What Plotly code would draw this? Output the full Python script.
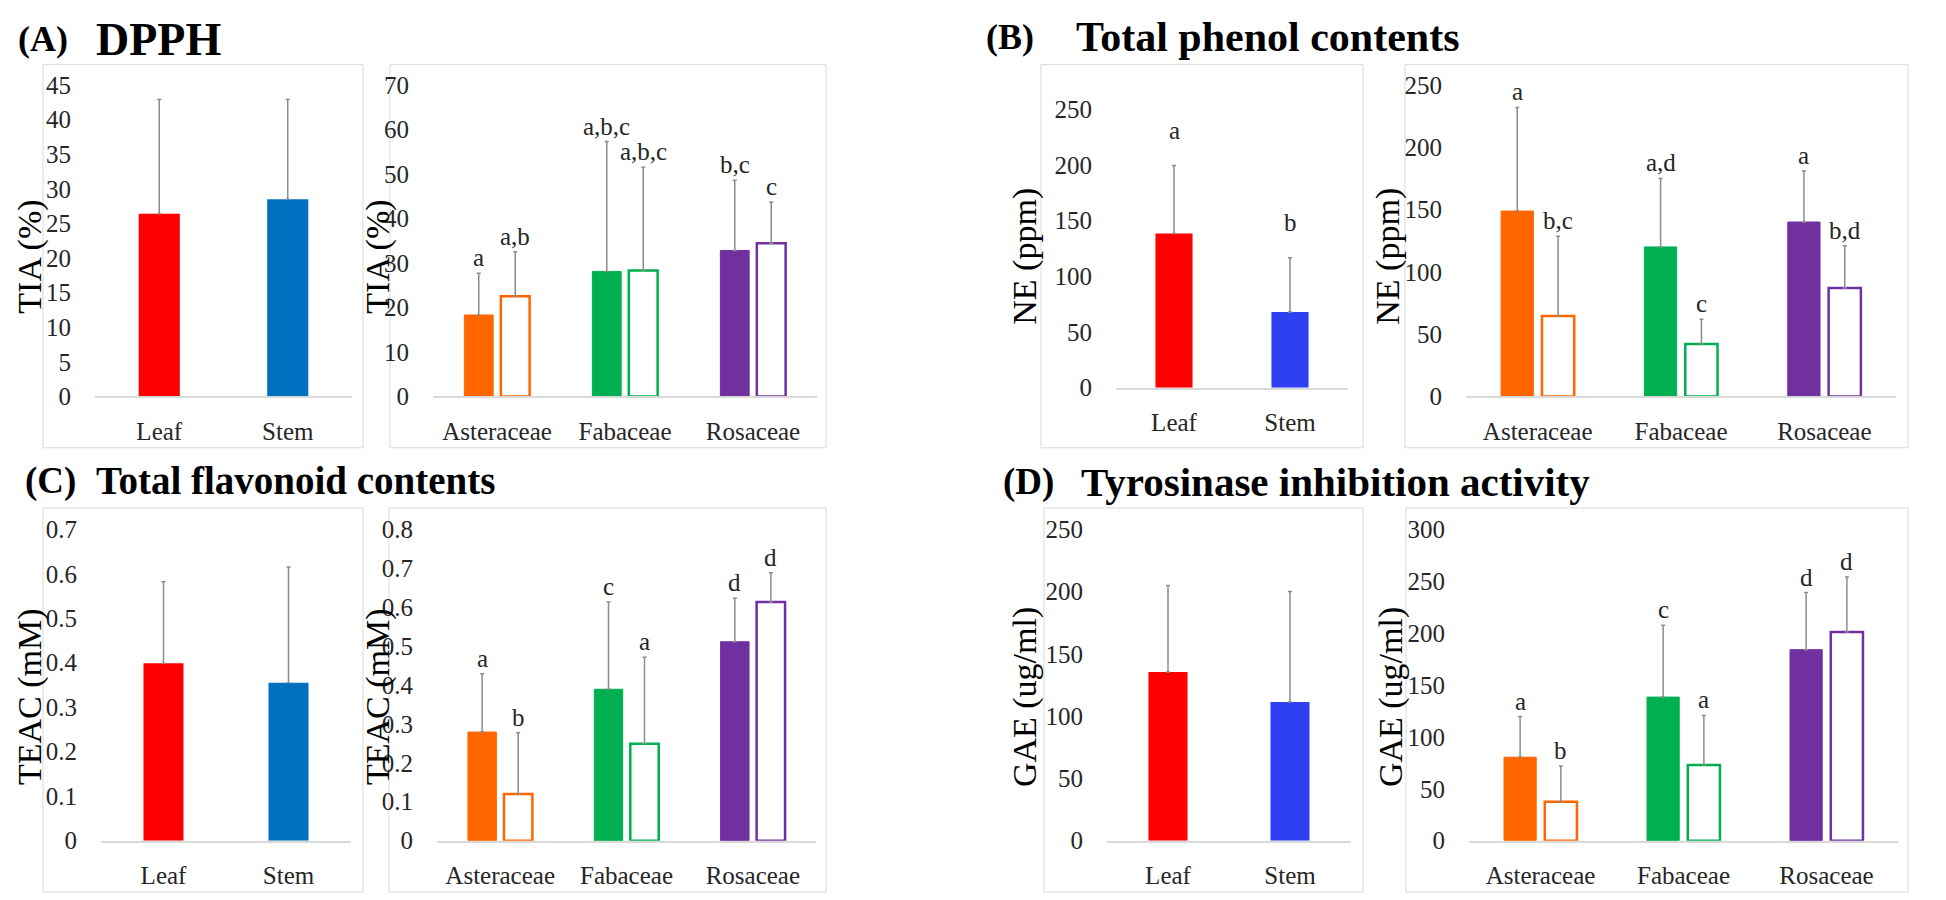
import plotly.graph_objects as go

W, H = 1946, 900
FONT = "Liberation Serif"

def px(x):
    return x / W

def py(y):
    return 1 - y / H

# ---------------- data ----------------
parts = ["Leaf", "Stem"]
families = ["Asteraceae", "Fabaceae", "Rosaceae"]

# (A) DPPH
dpph_parts = [26.4, 28.5]
dpph_parts_sd = [16.5, 14.4]
dpph_leaf = [18.3, 28.1, 32.8]
dpph_leaf_sd = [9.4, 29.2, 15.8]
dpph_stem = [22.5, 28.3, 34.4]
dpph_stem_sd = [10.0, 23.2, 9.3]
dpph_leaf_letters = ["a", "a,b,c", "b,c"]
dpph_stem_letters = ["a,b", "a,b,c", "c"]

# (B) Total phenol contents
phenol_parts = [138.5, 68.0]
phenol_parts_sd = [61.0, 48.7]
phenol_parts_letters = ["a", "b"]
phenol_leaf = [148.8, 120.0, 140.0]
phenol_leaf_sd = [83.2, 55.0, 41.0]
phenol_stem = [64.6, 42.0, 87.0]
phenol_stem_sd = [63.9, 20.0, 34.0]
phenol_leaf_letters = ["a", "a,d", "a"]
phenol_stem_letters = ["b,c", "c", "b,d"]

# (C) Total flavonoid contents
flav_parts = [0.399, 0.355]
flav_parts_sd = [0.183, 0.260]
flav_leaf = [0.279, 0.389, 0.511]
flav_leaf_sd = [0.150, 0.224, 0.112]
flav_stem = [0.120, 0.249, 0.613]
flav_stem_sd = [0.157, 0.222, 0.075]
flav_leaf_letters = ["a", "c", "d"]
flav_stem_letters = ["b", "a", "d"]

# (D) Tyrosinase inhibition activity
tyr_parts = [135.5, 111.4]
tyr_parts_sd = [69.3, 88.6]
tyr_leaf = [80.4, 138.3, 184.0]
tyr_leaf_sd = [39.2, 69.2, 55.0]
tyr_stem = [37.4, 72.9, 201.0]
tyr_stem_sd = [34.6, 47.7, 53.0]
tyr_leaf_letters = ["a", "c", "d"]
tyr_stem_letters = ["b", "a", "d"]

RED = "#FF0000"
BLUE_A = "#0070C0"
BLUE_B = "#2E40F2"
FAM_COLORS = ["#FF6600", "#00B050", "#7030A0"]
ERR = "#8C8C8C"
BOX = "#D9D9D9"
TICK_COLOR = "#262626"

panels = [
    dict(kind="parts", vals=dpph_parts, sd=dpph_parts_sd, letters=None, stem=BLUE_A,
         x0=87, x1=344, y0=387, y1=66, ymax=45, dtick=5, ytitle="TIA (%)", tx=22, ty=243,
         box=(35, 45, 355, 440)),
    dict(kind="fam", leaf=dpph_leaf, leaf_sd=dpph_leaf_sd, stem=dpph_stem, stem_sd=dpph_stem_sd,
         leaf_letters=dpph_leaf_letters, stem_letters=dpph_stem_letters,
         x0=425, x1=809, y0=387, y1=66, ymax=70, dtick=10, ytitle="TIA (%)", tx=370, ty=243,
         box=(382, 45, 818, 440)),
    dict(kind="parts", vals=phenol_parts, sd=phenol_parts_sd, letters=phenol_parts_letters, stem=BLUE_B,
         x0=1108, x1=1340, y0=378, y1=91, ymax=250, dtick=50, ytitle="NE (ppm)", tx=1017, ty=243,
         box=(1033, 45, 1355, 440), lshift=20),
    dict(kind="fam", leaf=phenol_leaf, leaf_sd=phenol_leaf_sd, stem=phenol_stem, stem_sd=phenol_stem_sd,
         leaf_letters=phenol_leaf_letters, stem_letters=phenol_stem_letters,
         x0=1458, x1=1888, y0=387, y1=66, ymax=250, dtick=50, ytitle="NE (ppm)", tx=1380, ty=243,
         box=(1397, 45, 1900, 440)),
    dict(kind="parts", vals=flav_parts, sd=flav_parts_sd, letters=None, stem=BLUE_A,
         x0=93, x1=343, y0=845, y1=524, ymax=0.7, dtick=0.1, ytitle="TEAC (mM)", tx=22, ty=697,
         box=(35, 502, 355, 898)),
    dict(kind="fam", leaf=flav_leaf, leaf_sd=flav_leaf_sd, stem=flav_stem, stem_sd=flav_stem_sd,
         leaf_letters=flav_leaf_letters, stem_letters=flav_stem_letters,
         x0=429, x1=808, y0=845, y1=524, ymax=0.8, dtick=0.1, ytitle="TEAC (mM)", tx=370, ty=697,
         box=(381, 502, 818, 898)),
    dict(kind="parts", vals=tyr_parts, sd=tyr_parts_sd, letters=None, stem=BLUE_B,
         x0=1099, x1=1343, y0=845, y1=524, ymax=250, dtick=50, ytitle="GAE (ug/ml)", tx=1017, ty=697,
         box=(1036, 502, 1355, 898)),
    dict(kind="fam", leaf=tyr_leaf, leaf_sd=tyr_leaf_sd, stem=tyr_stem, stem_sd=tyr_stem_sd,
         leaf_letters=tyr_leaf_letters, stem_letters=tyr_stem_letters,
         x0=1461, x1=1890, y0=845, y1=524, ymax=300, dtick=50, ytitle="GAE (ug/ml)", tx=1383, ty=697,
         box=(1398, 502, 1900, 898)),
]

fig = go.Figure()
annotations = []
shapes = []
layout_axes = {}

BAR_W = 0.225
OFF_FILL = -0.255
OFF_HOLLOW = 0.03

for i, p in enumerate(panels):
    n = i + 1
    xa = "x" if n == 1 else f"x{n}"
    ya = "y" if n == 1 else f"y{n}"
    xkey = "xaxis" if n == 1 else f"xaxis{n}"
    ykey = "yaxis" if n == 1 else f"yaxis{n}"

    def err(sd):
        return dict(type="data", array=sd, arrayminus=[0] * len(sd), symmetric=False,
                    color=ERR, thickness=1.5, width=2)

    if p["kind"] == "parts":
        fig.add_trace(go.Bar(
            x=parts, y=p["vals"], width=0.32, xaxis=xa, yaxis=ya,
            marker=dict(color=[RED, p["stem"]], line=dict(width=0)),
            error_y=err(p["sd"]), showlegend=False))
        if p["letters"]:
            for k, lab in enumerate(p["letters"]):
                annotations.append(dict(
                    x=k, y=p["vals"][k] + p["sd"][k], xref=xa, yref=ya, text=lab,
                    showarrow=False, yanchor="bottom", yshift=p.get("lshift", 2),
                    font=dict(family=FONT, size=25, color="#262626")))
        ncat = 2
        cats = parts
    else:
        fig.add_trace(go.Bar(
            x=families, y=p["leaf"], width=BAR_W, offset=OFF_FILL, xaxis=xa, yaxis=ya,
            marker=dict(color=FAM_COLORS, line=dict(color=FAM_COLORS, width=1)),
            error_y=err(p["leaf_sd"]), showlegend=False))
        fig.add_trace(go.Bar(
            x=families, y=p["stem"], width=BAR_W, offset=OFF_HOLLOW, xaxis=xa, yaxis=ya,
            marker=dict(color="white", line=dict(color=FAM_COLORS, width=2.5)),
            error_y=err(p["stem_sd"]), showlegend=False))
        for k in range(3):
            annotations.append(dict(
                x=k + OFF_FILL + BAR_W / 2, y=p["leaf"][k] + p["leaf_sd"][k], xref=xa, yref=ya,
                text=p["leaf_letters"][k], showarrow=False, yanchor="bottom", yshift=0,
                font=dict(family=FONT, size=25, color="#262626")))
            annotations.append(dict(
                x=k + OFF_HOLLOW + BAR_W / 2, y=p["stem"][k] + p["stem_sd"][k], xref=xa, yref=ya,
                text=p["stem_letters"][k], showarrow=False, yanchor="bottom", yshift=0,
                font=dict(family=FONT, size=25, color="#262626")))
        ncat = 3
        cats = families

    layout_axes[xkey] = dict(
        domain=[px(p["x0"]), px(p["x1"])], anchor=ya, type="category",
        categoryorder="array", categoryarray=cats,
        range=[-0.5, ncat - 0.5], showline=True, linecolor=BOX, linewidth=1.5,
        showgrid=False, zeroline=False, ticks="outside", ticklen=12,
        tickcolor="rgba(0,0,0,0)", tickfont=dict(family=FONT, size=25, color=TICK_COLOR),
        fixedrange=True)
    layout_axes[ykey] = dict(
        domain=[py(p["y0"]), py(p["y1"])], anchor=xa, range=[0, p["ymax"]],
        dtick=p["dtick"], tick0=0, showline=False, showgrid=False, zeroline=False,
        ticks="outside", ticklen=18, tickcolor="rgba(0,0,0,0)",
        tickfont=dict(family=FONT, size=25, color=TICK_COLOR), fixedrange=True)

    annotations.append(dict(
        x=px(p["tx"]), y=py(p["ty"]), xref="paper", yref="paper", text=p["ytitle"],
        textangle=-90, showarrow=False, xanchor="center", yanchor="middle",
        font=dict(family=FONT, size=34, color="black")))

    bx0, by0, bx1, by1 = p["box"]
    shapes.append(dict(type="rect", xref="paper", yref="paper",
                       x0=px(bx0), x1=px(bx1), y0=py(by1), y1=py(by0),
                       line=dict(color=BOX, width=1), fillcolor="rgba(0,0,0,0)", layer="below"))

# panel titles
titles = [
    ("(A)", 8, 19, 36), ("DPPH", 86, 19, 46),
    ("(B)", 976, 17, 36), ("Total phenol contents", 1066, 17, 42),
    ("(C)", 15, 474, 37), ("Total flavonoid contents", 86, 474, 39),
    ("(D)", 993, 475, 37), ("Tyrosinase inhibition activity", 1071, 475, 41),
]
for text, x, y, size in titles:
    annotations.append(dict(
        x=px(x), y=py(y), xref="paper", yref="paper", text=f"<b>{text}</b>",
        showarrow=False, xanchor="left", yanchor="middle",
        font=dict(family=FONT, size=size, color="black")))

fig.update_layout(
    width=W, height=H, margin=dict(l=0, r=0, t=0, b=0),
    paper_bgcolor="white", plot_bgcolor="white",
    font=dict(family=FONT),
    barmode="overlay", showlegend=False,
    annotations=annotations, shapes=shapes,
    **layout_axes)

fig.write_html("out.html")
